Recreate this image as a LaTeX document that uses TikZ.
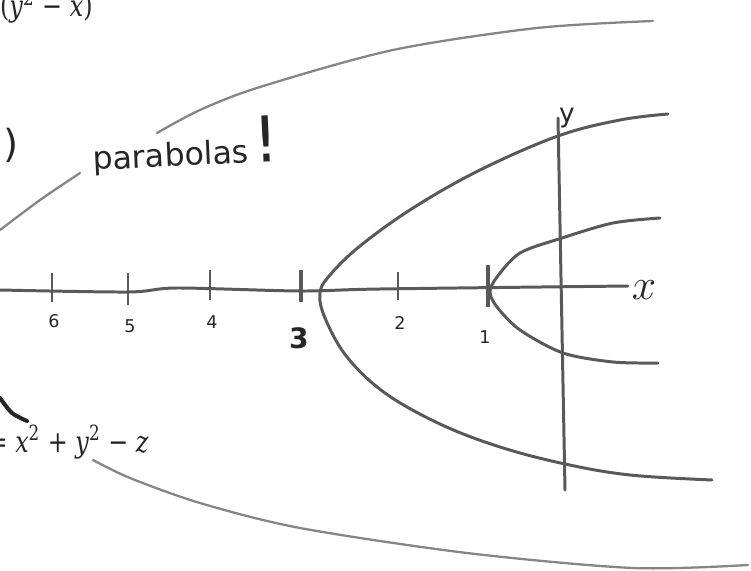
\documentclass[tikz,border=0pt]{standalone}
\usepackage{fontspec}
\newfontfamily\hand{DejaVu Sans}
\newfontfamily\eqfont[FakeStretch=0.8]{DejaVu Serif}
\begin{document}
\begin{tikzpicture}[x=0.02cm,y=-0.02cm]
  \tikzset{pen/.style={line width=1.7pt,color=black!65,line cap=round},
           faint/.style={line width=1.3pt,color=black!48,line cap=round},
           tickmark/.style={line width=1.5pt,color=black!65},
           digit/.style={font=\hand\fontsize{10}{10}\selectfont,text=black!85,inner sep=0pt},
           typed/.style={text=black!85,inner sep=0pt}}
  \useasboundingbox (0,0) rectangle (751,571);

  % axes
  \coordinate (x0) at (0,290);
  \coordinate (x1) at (628,286);
  \coordinate (y0) at (558,118);
  \coordinate (y1) at (565,490);
  \draw[pen] plot[smooth] coordinates {(x0) (128,292) (177,288) (300,291) (380,289) (x1)};
  \draw[pen] (y0) -- (y1);
  \node[typed,font=\fontsize{24}{24}\selectfont] (xlab) at (644,290) {$x$};
  \node[digit,font=\hand\fontsize{15}{15}\selectfont] (ylab) at (567,118) {y};

  % ticks and labels
  \foreach \n/\x/\t/\b/\ly in {6/52/273/302/321, 5/128/273/305/326, 4/210/270/300/322,
                              2/398/272/300/323}{
    \draw[tickmark] (\x,\t) -- (\x,\b);
    \node[digit] (d\n) at (\x+2,\ly) {\n};
  }
  \draw[tickmark,line width=1.9pt] (301,270) -- (301,302);
  \draw[tickmark,line width=2.4pt] (488,265) -- (488,307);
  \node[digit,font=\hand\bfseries\fontsize{16}{16}\selectfont] (d3) at (299,338) {3};
  \node[digit] (d1) at (485,337) {1};

  % big parabola
  \draw[pen] plot[smooth,tension=0.6] coordinates {(668,114) (620,120) (558,136) (480,170)
    (413,208) (360,246) (330,275) (320,293) (325,318) (347,357) (385,393) (440,424)
    (500,447) (565,464) (630,475) (712,480)};

  % small parabola
  \draw[pen] plot[smooth] coordinates {(660,218) (613,223) (562,238) (520,253) (497,277)
    (490,292) (497,307) (520,330) (563,353) (613,362) (658,363)};

  % outer strokes
  \draw[faint] plot[smooth] coordinates {(157,133) (200,110) (260,87) (393,50) (537,28) (653,21)};
  \draw[faint] plot[smooth] coordinates {(0,230) (40,200) (80,173)};
  \draw[faint] plot[smooth] coordinates {(93,460) (130,478) (200,503) (300,528) (467,553)
    (633,568) (748,565)};
  \draw[line width=2.3pt,black!85,line cap=round] plot[smooth] coordinates {(0,398) (12,413) (27,421)};

  % texts
  \node[typed,anchor=base east,font=\eqfont\fontsize{17}{17}\selectfont] (yminusx) at (93,17)
    {(\textit{y}\textsuperscript{2} − \textit{x})};
  \node[typed,anchor=base east,font=\eqfont\fontsize{17}{17}\selectfont] (eq) at (149,452)
    {= \textit{x}\textsuperscript{2} + \textit{y}\textsuperscript{2} − \textit{z}};
  \node[digit,anchor=east,font=\hand\fontsize{22}{22}\selectfont] (paren) at (19,145) {)};
  \node[digit,anchor=base west,rotate=2.7,font=\hand\fontsize{18}{18}\selectfont] (para) at (93,170)
    {parabolas\,{\fontsize{36}{36}\selectfont!}};
\end{tikzpicture}
\end{document}
